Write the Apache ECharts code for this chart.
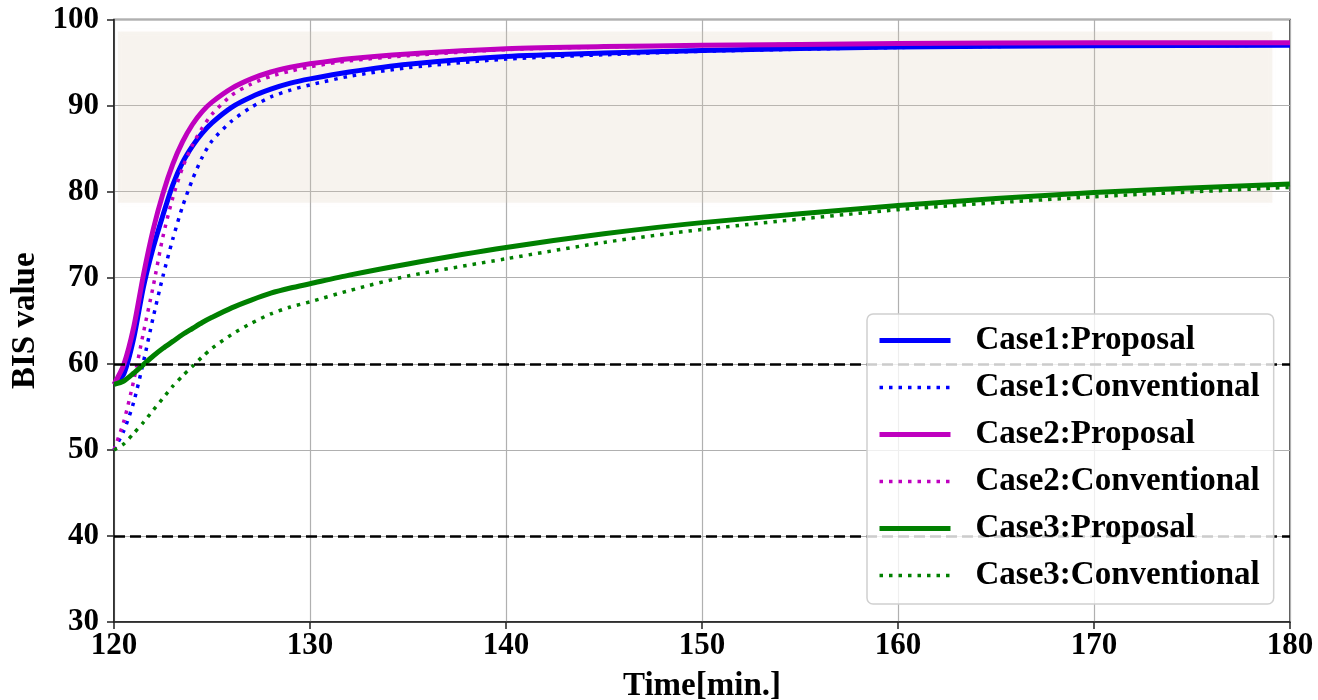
<!DOCTYPE html>
<html>
<head>
<meta charset="utf-8">
<script src="https://cdn.jsdelivr.net/npm/echarts@6/dist/echarts.min.js"></script>
<style>
  html, body { margin: 0; padding: 0; background: #fff; }
  #bisChart { width: 1318px; height: 700px; }
</style>
</head>
<body>
<div id="bisChart"></div>
<script>
  // 時刻 [min.]
  var time = [120, 120.5, 121, 121.5, 122, 122.5, 123, 123.5, 124, 124.5, 125, 126, 127, 128, 129, 130, 132, 135, 140, 145, 150, 160, 170, 180]

  var case1Proposal = [57.6, 58.8, 62.9, 68.9, 73.5, 77.3, 80.8, 83.4, 85.3, 86.8, 88.0, 89.8, 91.0, 91.9, 92.6, 93.1, 93.9, 94.8, 95.7, 96.1, 96.4, 96.8, 96.95, 97.0]
  var case1Conventional = [50.0, 52.2, 55.5, 60.2, 65.4, 70.2, 74.5, 78.3, 81.4, 84.0, 85.9, 88.2, 89.8, 91.0, 91.8, 92.4, 93.4, 94.4, 95.4, 95.9, 96.3, 96.75, 96.95, 97.0]
  var case2Proposal = [57.6, 59.9, 64.2, 70.3, 75.6, 79.8, 83.2, 85.8, 87.8, 89.3, 90.4, 92.0, 93.1, 93.9, 94.45, 94.85, 95.45, 96.0, 96.6, 96.85, 97.0, 97.2, 97.3, 97.3]
  var case2Conventional = [50.0, 53.3, 58.0, 63.6, 69.0, 74.8, 79.3, 82.8, 85.4, 87.4, 89.0, 91.2, 92.5, 93.4, 94.0, 94.5, 95.2, 95.8, 96.5, 96.8, 97.0, 97.2, 97.3, 97.3]
  var case3Proposal = [57.6, 58.0, 58.9, 59.9, 60.9, 61.8, 62.6, 63.4, 64.1, 64.8, 65.4, 66.5, 67.4, 68.2, 68.8, 69.3, 70.3, 71.6, 73.5, 75.1, 76.4, 78.4, 79.9, 80.9]
  var case3Conventional = [50.0, 50.7, 51.9, 53.2, 54.6, 56.0, 57.4, 58.6, 59.7, 60.8, 61.8, 63.4, 64.7, 65.8, 66.6, 67.2, 68.5, 70.2, 72.2, 74.1, 75.6, 77.9, 79.4, 80.5]

  // 目標範囲 (背景) と 閾値線
  var bandX = [120.2, 179.1]
  var bandY = [98.6, 78.7]
  var limitLines = [60, 40]

  var seriesNames = ['Case1:Proposal', 'Case1:Conventional', 'Case2:Proposal', 'Case2:Conventional', 'Case3:Proposal', 'Case3:Conventional']
  var seriesValues = [case1Proposal, case1Conventional, case2Proposal, case2Conventional, case3Proposal, case3Conventional]
  var colors = ['#0000ff', '#0000ff', '#bf00bf', '#bf00bf', '#008000', '#008000']

  var font = 'Liberation Serif'

  function pairs (values) {
    return time.map(function (t, i) { return [t, values[i]] })
  }

  var series = seriesNames.map(function (name, i) {
    var dotted = i % 2 === 1
    var s = {
      name: name,
      type: 'line',
      data: pairs(seriesValues[i]),
      showSymbol: false,
      symbol: 'none',
      smooth: 0.25,
      color: colors[i],
      lineStyle: dotted
        ? {width: 3.5, type: [3.5, 6], color: colors[i], cap: 'butt'}
        : {width: 5, type: 'solid', color: colors[i]},
      z: 2
    }
    if (i === 0) {
      s.markArea = {
        silent: true,
        itemStyle: {
          color: 'rgba(222,205,180,0.2)',
          shadowBlur: 6,
          shadowColor: 'rgba(222,205,180,0.15)'
        },
        data: [[{xAxis: bandX[0], yAxis: bandY[0]}, {xAxis: bandX[1], yAxis: bandY[1]}]]
      }
      s.markLine = {
        silent: true,
        symbol: 'none',
        label: {show: false},
        lineStyle: {color: '#000', width: 2.5, type: [11, 5]},
        data: limitLines.map(function (v) { return {yAxis: v} })
      }
    }
    return s
  })

  var myChart = echarts.init(document.getElementById('bisChart'))
  var option = {
    animation: false,
    backgroundColor: '#fff',
    grid: {
      left: 114,
      right: 28,
      top: 19.5,
      bottom: 78,
      outerBoundsMode: 'none',
      containLabel: false,
      show: true,
      borderColor: '#222',
      borderWidth: 1.5,
      backgroundColor: 'transparent'
    },
    legend: {
      orient: 'vertical',
      left: 867,
      top: 314,
      z: 10,
      data: seriesNames,
      itemWidth: 71,
      itemHeight: 14,
      itemGap: 14,
      padding: [10, 14, 12, 10],
      backgroundColor: 'rgba(255,255,255,0.8)',
      borderColor: '#d0d0d0',
      borderWidth: 1.5,
      borderRadius: 6,
      itemStyle: {opacity: 0},
      lineStyle: {width: 'inherit', type: 'inherit'},
      textStyle: {
        fontFamily: font,
        fontWeight: 'bold',
        fontSize: 33,
        lineHeight: 33,
        color: '#000',
        padding: [0, 0, 0, 20]
      }
    },
    xAxis: {
      type: 'value',
      min: 120,
      max: 180,
      interval: 10,
      name: 'Time[min.]',
      nameLocation: 'middle',
      nameGap: 48,
      nameTextStyle: {fontFamily: font, fontWeight: 'bold', fontSize: 33, color: '#000'},
      axisLine: {show: true, onZero: false, lineStyle: {color: '#222', width: 1.5}},
      axisTick: {show: true, length: 7, lineStyle: {color: '#222', width: 1.5}},
      axisLabel: {fontFamily: font, fontWeight: 'bold', fontSize: 31, color: '#000', margin: 8},
      splitLine: {show: true, lineStyle: {color: '#b0b0b0', width: 1.2}}
    },
    yAxis: {
      type: 'value',
      min: 30,
      max: 100,
      interval: 10,
      name: 'BIS value',
      nameLocation: 'middle',
      nameGap: 67,
      nameTextStyle: {fontFamily: font, fontWeight: 'bold', fontSize: 33, color: '#000'},
      axisLine: {show: true, onZero: false, lineStyle: {color: '#222', width: 1.5}},
      axisTick: {show: true, length: 7, lineStyle: {color: '#222', width: 1.5}},
      axisLabel: {fontFamily: font, fontWeight: 'bold', fontSize: 31, color: '#000', margin: 15},
      splitLine: {show: true, lineStyle: {color: '#b0b0b0', width: 1.2}}
    },
    series: series
  }
  myChart.setOption(option)
</script>
</body>
</html>
